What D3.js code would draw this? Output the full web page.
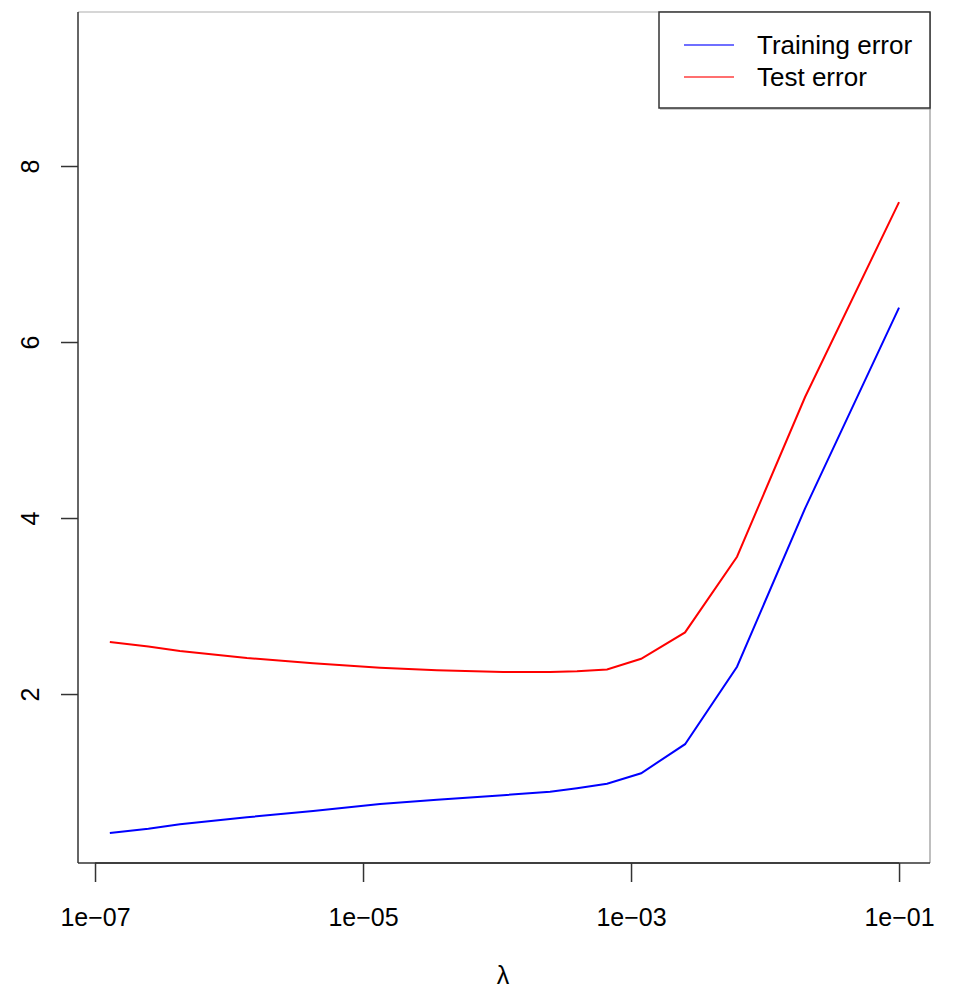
<!DOCTYPE html>
<html>
  <head>
    <meta http-equiv="Content-Type" content="text/html;charset=utf-8">
    <title>Training and test error vs lambda</title>
    <script type="text/javascript" src="https://d3js.org/d3.v7.min.js"></script>
    <style>
      html, body {
        margin: 0;
        padding: 0;
        background: #fff;
      }
      text {
        font-family: "Liberation Sans", Arial, Helvetica, sans-serif;
        font-size: 25px;
        fill: #000;
      }
      path.line {
        fill: none;
        stroke-width: 2px;
      }
      .axis path, .axis line {
        fill: none;
        stroke: #333;
        stroke-width: 1.5px;
      }
    </style>
  </head>
  <body>
    <script type="text/javascript">

// values
var lambdas  = [1.29e-7, 2.5e-7, 4.3e-7, 1.36e-6, 4.24e-6, 1.34e-5, 3.56e-5, 1.11e-4, 2.49e-4, 3.95e-4, 6.62e-4, 1.19e-3, 2.53e-3, 6.18e-3, 0.0199, 0.1];
var trainErr = [0.42, 0.47, 0.52, 0.60, 0.67, 0.75, 0.80, 0.85, 0.89, 0.93, 0.98, 1.10, 1.43, 2.31, 4.11, 6.39];
var testErr  = [2.59, 2.54, 2.49, 2.41, 2.35, 2.30, 2.27, 2.25, 2.25, 2.26, 2.28, 2.40, 2.70, 3.56, 5.375, 7.59];

var xTicks = [1e-7, 1e-5, 1e-3, 1e-1];
var xTickLabels = ["1e\u221207", "1e\u221205", "1e\u221203", "1e\u221201"];
var yTicks = [2, 4, 6, 8];

var seriesNames = ["Training error", "Test error"];
var seriesColors = ["#0000ff", "#ff0000"];

var width = 957, height = 990;
var box = {left: 78, right: 930, top: 12, bottom: 863};

var x = d3.scaleLog()
    .domain([Math.pow(10, -7.127), Math.pow(10, -0.769)])
    .range([box.left, box.right]);

var y = d3.scaleLinear()
    .domain([0.08, 9.75])
    .range([box.bottom, box.top]);

var svg = d3.select("body").append("svg")
    .attr("width", width)
    .attr("height", height);

// plot box
svg.append("line").attr("x1", box.left).attr("x2", box.right).attr("y1", box.top).attr("y2", box.top)
    .attr("stroke", "#c8c8c8").attr("stroke-width", 1.5);
svg.append("line").attr("x1", box.right).attr("x2", box.right).attr("y1", box.top).attr("y2", box.bottom)
    .attr("stroke", "#aaa").attr("stroke-width", 1.5);
svg.append("line").attr("x1", box.left).attr("x2", box.left).attr("y1", box.top).attr("y2", box.bottom)
    .attr("stroke", "#333").attr("stroke-width", 1.5);
svg.append("line").attr("x1", box.left).attr("x2", box.right).attr("y1", box.bottom).attr("y2", box.bottom)
    .attr("stroke", "#333").attr("stroke-width", 1.5);

var xAxis = d3.axisBottom(x)
    .tickValues(xTicks)
    .tickFormat(function(d, i) { return xTickLabels[i]; })
    .tickSize(19)
    .tickPadding(26);

var gx = svg.append("g")
    .attr("class", "axis x")
    .attr("transform", "translate(0," + box.bottom + ")")
    .call(xAxis);
gx.select(".domain").attr("d", "M" + x(xTicks[0]) + ",0H" + x(xTicks[xTicks.length - 1]));

var yAxis = d3.axisLeft(y)
    .tickValues(yTicks)
    .tickFormat(d3.format("d"))
    .tickSize(17);

var gy = svg.append("g")
    .attr("class", "axis y")
    .attr("transform", "translate(" + box.left + ",0)")
    .call(yAxis);
gy.select(".domain").remove();
gy.selectAll(".tick text")
    .attr("transform", "rotate(-90)")
    .attr("x", 0)
    .attr("y", -39)
    .attr("dy", 0)
    .attr("text-anchor", "middle");

svg.selectAll(".axis text").style("font-size", "25px");

// lines
var line = d3.line()
    .x(function(d) { return x(d[0]); })
    .y(function(d) { return y(d[1]); });

[trainErr, testErr].forEach(function(vals, i) {
  svg.append("path")
    .attr("class", "line")
    .attr("stroke", seriesColors[i])
    .attr("d", line(lambdas.map(function(l, j) { return [l, vals[j]]; })));
});

// axis title
svg.append("text")
    .attr("x", (x(xTicks[1]) + x(xTicks[2])) / 2 + 6)
    .attr("y", 984)
    .attr("text-anchor", "middle")
    .text("\u03bb");

// legend
var lg = svg.append("g").attr("transform", "translate(659,12)");
lg.append("rect")
    .attr("x", 1).attr("y", 1).attr("width", 271).attr("height", 97)
    .attr("fill", "#999").attr("opacity", 0.5);
lg.append("rect")
    .attr("width", 271).attr("height", 96)
    .attr("fill", "#fff").attr("stroke", "#333").attr("stroke-width", 1.5);

seriesNames.forEach(function(name, i) {
  var ly = 33 + i * 32;
  lg.append("line")
    .attr("x1", 25).attr("x2", 75).attr("y1", ly).attr("y2", ly)
    .attr("stroke", seriesColors[i]).attr("stroke-width", 1.5).attr("opacity", 0.75);
  lg.append("text")
    .attr("x", 98).attr("y", ly + 9)
    .style("font-size", "26px")
    .text(name);
});

    </script>
  </body>
</html>
